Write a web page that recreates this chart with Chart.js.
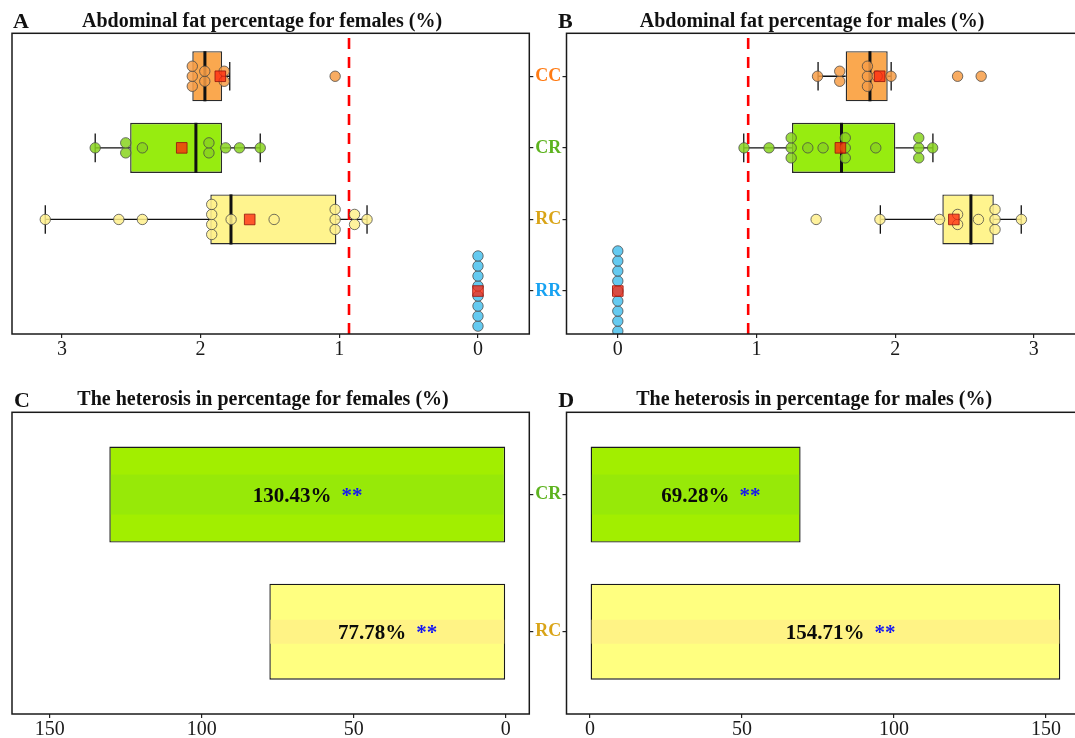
<!DOCTYPE html>
<html>
<head>
<meta charset="utf-8">
<script src="https://cdn.jsdelivr.net/npm/chart.js@4.4.1/dist/chart.umd.min.js"></script>
<style>
  html, body { margin: 0; padding: 0; background: #fff; overflow: hidden; width: 1075px; height: 738px; }
  canvas { position: absolute; }
</style>
</head>
<body>
<canvas id="panelA" width="566" height="370" style="left:0px;top:0px"></canvas>
<canvas id="panelB" width="553" height="370" style="left:540px;top:0px"></canvas>
<canvas id="panelC" width="566" height="368" style="left:0px;top:370px"></canvas>
<canvas id="panelD" width="553" height="368" style="left:540px;top:370px"></canvas>
<script>
// ---- Data -------------------------------------------------------------
const groups = ['CC', 'CR', 'RC', 'RR'];

// Abdominal fat percentage (%) of individual birds, females
const femaleCC = [2.06, 2.06, 2.06, 1.97, 1.97, 1.83, 1.83, 1.03];
const femaleCR = [2.76, 2.54, 2.54, 2.42, 1.94, 1.94, 1.82, 1.72, 1.57];
const femaleRC = [3.12, 2.59, 2.42, 1.92, 1.92, 1.92, 1.92, 1.78, 1.47, 1.03, 1.03, 1.03, 0.89, 0.89, 0.80];
const femaleRR = [0, 0, 0, 0, 0, 0, 0, 0];

// Box statistics, females (CC, CR, RC, RR)
const femaleQ1 = [1.845, 1.845, 1.021, 0];
const femaleMedian = [1.969, 2.034, 1.781, 0];
const femaleQ3 = [2.06, 2.508, 1.930, 0];
const femaleWhiskerLow = [1.79, 1.57, 0.80, 0];
const femaleWhiskerHigh = [2.06, 2.76, 3.12, 0];
const femaleMean = [1.858, 2.136, 1.646, 0];
const femaleReference = 0.93;

// Abdominal fat percentage (%) of individual birds, males
const maleCC = [1.44, 1.60, 1.60, 1.80, 1.80, 1.80, 1.87, 1.97, 2.45, 2.62];
const maleCR = [0.91, 1.09, 1.25, 1.25, 1.25, 1.37, 1.48, 1.64, 1.64, 1.64, 1.86, 2.17, 2.17, 2.17, 2.27];
const maleRC = [1.43, 1.89, 2.32, 2.45, 2.45, 2.60, 2.72, 2.72, 2.72, 2.91];
const maleRR = [0, 0, 0, 0, 0, 0, 0, 0, 0];

// Box statistics, males (CC, CR, RC, RR)
const maleQ1 = [1.643, 1.256, 2.340, 0];
const maleMedian = [1.818, 1.613, 2.546, 0];
const maleQ3 = [1.946, 2.001, 2.711, 0];
const maleWhiskerLow = [1.444, 0.908, 1.893, 0];
const maleWhiskerHigh = [1.971, 2.272, 2.909, 0];
const maleMean = [1.888, 1.605, 2.423, 0];
const maleReference = 0.94;

// Heterosis (%)
const heterosisGroups = ['CR', 'RC'];
const heterosisFemale = [130.43, 77.78];
const heterosisMale = [69.28, 154.71];
const heterosisSignif = ['**', '**'];

// Axis ticks
const fatTicks = [0, 1, 2, 3];
const heterosisTicks = [0, 50, 100, 150];

// ---- Styles -----------------------------------------------------------
const SERIF = "'Liberation Serif', 'Times New Roman', serif";
const DOT_STEP = 0.14;          // vertical stacking step of tied dots (category units)
const labelColor = { CC: '#FF7A12', CR: '#5DB31E', RC: '#D9A417', RR: '#17A2F2' };
const boxFill = { CC: '#FAA84F', CR: '#97EC10', RC: '#FFF48E', RR: '#5CC5EE' };
const dotFill = { CC: 'rgba(247,158,70,0.85)', CR: 'rgba(136,212,30,0.85)', RC: 'rgba(255,240,140,0.85)', RR: 'rgba(80,195,238,0.88)' };
const barFill = { CR: '#A2EE00', RC: '#FFFF80' };
const barBand = { CR: { half: 20, color: 'rgba(110,215,40,0.2)' }, RC: { half: 12, color: '#FFF385' } };

// ---- Plugins ----------------------------------------------------------
const headingPlugin = {
  id: 'heading',
  afterDraw(chart, _args, o) {
    const { ctx, chartArea: ca } = chart;
    ctx.save();
    ctx.fillStyle = '#111';
    ctx.textBaseline = 'alphabetic';
    ctx.textAlign = 'left';
    ctx.font = `bold 22px ${SERIF}`;
    ctx.fillText(o.letter, ca.left + o.letterDx, ca.top + o.letterDy);
    ctx.textAlign = 'center';
    ctx.font = `bold 20px ${SERIF}`;
    ctx.fillText(o.text, ca.left + o.titleDx, ca.top + o.titleDy);
    ctx.restore();
  }
};

const framePlugin = {
  id: 'frame',
  afterDatasetsDraw(chart) {
    const { ctx, chartArea: ca } = chart;
    ctx.save();
    ctx.strokeStyle = '#1a1a1a';
    ctx.lineWidth = 1.5;
    ctx.strokeRect(ca.left, ca.top, ca.right - ca.left, ca.bottom - ca.top);
    ctx.restore();
  }
};

// whiskers, caps and medians, drawn right after the box bars
const whiskerPlugin = {
  id: 'whiskers',
  afterDatasetDraw(chart, args, o) {
    if (args.meta.type !== 'bar' || !o.q1) return;
    const { ctx, scales: { x, y } } = chart;
    ctx.save();
    ctx.strokeStyle = '#111';
    groups.forEach((g, i) => {
      const row = groups.length - 1 - i;
      const yc = y.getPixelForValue(row);
      const capTop = y.getPixelForValue(row + 0.2), capBot = y.getPixelForValue(row - 0.2);
      ctx.lineWidth = 1.3;
      [[o.low[i], o.q1[i]], [o.high[i], o.q3[i]]].forEach(([end, edge]) => {
        if (end === edge) return;
        const xe = x.getPixelForValue(end), xb = x.getPixelForValue(edge);
        ctx.beginPath();
        ctx.moveTo(xe, yc); ctx.lineTo(xb, yc);
        ctx.moveTo(xe, capTop); ctx.lineTo(xe, capBot);
        ctx.stroke();
      });
      if (o.q3[i] > o.q1[i]) {
        const xm = x.getPixelForValue(o.median[i]);
        ctx.lineWidth = 3;
        ctx.beginPath();
        ctx.moveTo(xm, y.getPixelForValue(row + 0.35));
        ctx.lineTo(xm, y.getPixelForValue(row - 0.35));
        ctx.stroke();
      }
    });
    ctx.restore();
  }
};

// lighter band across the middle of each heterosis bar
const bandPlugin = {
  id: 'band',
  afterDatasetDraw(chart, args, o) {
    if (args.meta.type !== 'bar' || !o.groups) return;
    const { ctx } = chart;
    ctx.save();
    args.meta.data.forEach((el, i) => {
      const b = barBand[o.groups[i]];
      const { x, y, base } = el.getProps(['x', 'y', 'base'], true);
      const l = Math.min(x, base) + 1, r = Math.max(x, base) - 1;
      ctx.fillStyle = b.color;
      ctx.fillRect(l, y - b.half, r - l, 2 * b.half);
    });
    ctx.restore();
  }
};

// value + significance labels on heterosis bars
const barLabelPlugin = {
  id: 'barLabels',
  afterDatasetsDraw(chart, _args, o) {
    if (!o.values) return;
    const { ctx, scales: { x, y } } = chart;
    ctx.save();
    ctx.font = `bold 21px ${SERIF}`;
    ctx.textBaseline = 'alphabetic';
    ctx.textAlign = 'left';
    o.values.forEach((v, i) => {
      const row = o.values.length - 1 - i;
      const txt = v.toFixed(2) + '%';
      const star = o.signif[i];
      const gap = 10;
      const wT = ctx.measureText(txt).width, wS = ctx.measureText(star).width;
      const cx = x.getPixelForValue(v / 2);
      const left = o.centerValueOnly ? cx - wT / 2 : cx - (wT + gap + wS) / 2;
      const yb = y.getPixelForValue(row) + 7.5;
      ctx.fillStyle = '#0a0a0a';
      ctx.fillText(txt, left, yb);
      ctx.fillStyle = '#1515F2';
      ctx.fillText(star, left + wT + gap, yb);
    });
    ctx.restore();
  }
};

// ---- Helpers ----------------------------------------------------------
function stackDots(values, row) {
  const counts = {}, seen = {};
  values.forEach(v => { counts[v] = (counts[v] || 0) + 1; });
  return values.map(v => {
    seen[v] = seen[v] === undefined ? 0 : seen[v] + 1;
    return { x: v, y: row + (seen[v] - (counts[v] - 1) / 2) * DOT_STEP };
  });
}

function xAxis(min, max, ticks, reverse, height) {
  return {
    type: 'linear', min, max, reverse, offset: false,
    afterBuildTicks: s => { s.ticks = ticks.map(v => ({ value: v })); },
    afterFit: s => { s.height = height; },
    grid: { display: true, offset: false, drawOnChartArea: false, drawTicks: true, tickLength: 4, color: '#222', lineWidth: 1.2 },
    border: { display: false },
    ticks: { color: '#1a1a1a', font: { family: SERIF, size: 20 }, padding: 0, maxRotation: 0, autoSkip: false }
  };
}

function yAxis(min, max, cats, position, showLabels, width) {
  const n = cats.length;
  const rows = cats.map((c, i) => n - 1 - i);
  return {
    type: 'linear', min, max, position, offset: false,
    afterBuildTicks: s => { s.ticks = rows.slice().reverse().map(v => ({ value: v })); },
    afterFit: s => { s.width = width; },
    grid: { display: true, offset: false, drawOnChartArea: false, drawTicks: true, tickLength: 4, color: '#222', lineWidth: 1.2 },
    border: { display: false },
    ticks: {
      display: showLabels,
      padding: 2,
      font: { family: SERIF, size: 18, weight: 'bold' },
      callback: v => cats[n - 1 - v],
      color: ctx => labelColor[cats[n - 1 - ctx.tick.value]]
    }
  };
}

function boxPanel(id, o) {
  const rows = groups.map((g, i) => groups.length - 1 - i);
  const boxed = groups.map((g, i) => i).filter(i => o.q3[i] > o.q1[i]);
  const datasets = [
    {
      type: 'scatter',
      data: o.mean.map((m, i) => ({ x: m, y: rows[i] })),
      pointStyle: 'rect', pointRadius: 7.5,
      backgroundColor: 'rgba(255,35,10,0.75)', borderColor: 'rgba(150,25,15,0.85)', borderWidth: 1
    },
    ...groups.map((g, i) => ({
      type: 'scatter',
      data: stackDots(o.points[i], rows[i]),
      pointRadius: 5.2,
      backgroundColor: dotFill[g], borderColor: 'rgba(70,70,70,0.85)', borderWidth: 0.9
    })),
    {
      type: 'line',
      data: [{ x: o.reference, y: -0.6 }, { x: o.reference, y: 3.6 }],
      borderColor: '#FF0000', borderWidth: 2.6, borderDash: [11, 8], pointRadius: 0, fill: false
    },
    {
      type: 'bar', indexAxis: 'y',
      data: boxed.map(i => ({ y: rows[i], x: [o.q1[i], o.q3[i]] })),
      backgroundColor: boxed.map(i => boxFill[groups[i]]),
      borderColor: '#2b2b2b', borderWidth: 1.4, borderSkipped: false,
      categoryPercentage: 0.7, barPercentage: 1
    }
  ];
  return new Chart(document.getElementById(id), {
    type: 'scatter',
    data: { datasets },
    plugins: [whiskerPlugin, framePlugin, headingPlugin],
    options: {
      responsive: false, animation: false, devicePixelRatio: 1,
      layout: { padding: o.padding },
      scales: {
        x: xAxis(-0.37, 3.36, fatTicks, o.reverse, 36),
        y: yAxis(-0.6, 3.6, groups, o.yPos, o.yLabels, o.yWidth)
      },
      plugins: {
        legend: { display: false }, tooltip: { enabled: false },
        whiskers: { q1: o.q1, q3: o.q3, median: o.median, low: o.low, high: o.high },
        heading: o.heading
      }
    }
  });
}

function heterosisPanel(id, o) {
  const n = heterosisGroups.length;
  return new Chart(document.getElementById(id), {
    type: 'scatter',
    data: {
      datasets: [{
        type: 'bar', indexAxis: 'y',
        data: o.values.map((v, i) => ({ y: n - 1 - i, x: v })),
        backgroundColor: heterosisGroups.map(g => barFill[g]),
        borderColor: '#1a1a1a', borderWidth: 1.4, borderSkipped: false,
        categoryPercentage: 0.7, barPercentage: 1
      }]
    },
    plugins: [bandPlugin, framePlugin, barLabelPlugin, headingPlugin],
    options: {
      responsive: false, animation: false, devicePixelRatio: 1,
      layout: { padding: o.padding },
      scales: {
        x: xAxis(-7.7355, 162.4455, heterosisTicks, o.reverse, 24),
        y: yAxis(-0.6, 1.6, heterosisGroups, o.yPos, o.yLabels, o.yWidth)
      },
      plugins: {
        legend: { display: false }, tooltip: { enabled: false },
        band: { groups: heterosisGroups },
        barLabels: { values: o.values, signif: heterosisSignif, centerValueOnly: o.centerValueOnly },
        heading: o.heading
      }
    }
  });
}

// ---- Panels -----------------------------------------------------------
boxPanel('panelA', {
  points: [femaleCC, femaleCR, femaleRC, femaleRR],
  q1: femaleQ1, q3: femaleQ3, median: femaleMedian, low: femaleWhiskerLow, high: femaleWhiskerHigh,
  mean: femaleMean, reference: femaleReference,
  reverse: true, yPos: 'right', yLabels: true, yWidth: 36.7,
  padding: { left: 12, top: 33.3, right: 0, bottom: 0 },
  heading: { letter: 'A', text: 'Abdominal fat percentage for females (%)', letterDx: 1, letterDy: -5, titleDx: 250, titleDy: -6.3 }
});

boxPanel('panelB', {
  points: [maleCC, maleCR, maleRC, maleRR],
  q1: maleQ1, q3: maleQ3, median: maleMedian, low: maleWhiskerLow, high: maleWhiskerHigh,
  mean: maleMean, reference: maleReference,
  reverse: false, yPos: 'left', yLabels: false, yWidth: 4.5,
  padding: { left: 22, top: 33.3, right: 9.2, bottom: 0 },
  heading: { letter: 'B', text: 'Abdominal fat percentage for males (%)', letterDx: -8.5, letterDy: -5, titleDx: 245.5, titleDy: -6.3 }
});

heterosisPanel('panelC', {
  values: heterosisFemale, reverse: true, yPos: 'right', yLabels: true, yWidth: 36.7,
  centerValueOnly: false,
  padding: { left: 12, top: 42.3, right: 0, bottom: 0 },
  heading: { letter: 'C', text: 'The heterosis in percentage for females (%)', letterDx: 2, letterDy: -5.6, titleDx: 251, titleDy: -7.3 }
});

heterosisPanel('panelD', {
  values: heterosisMale, reverse: false, yPos: 'left', yLabels: false, yWidth: 4.5,
  centerValueOnly: true,
  padding: { left: 22, top: 42.3, right: 9.2, bottom: 0 },
  heading: { letter: 'D', text: 'The heterosis in percentage for males (%)', letterDx: -8.3, letterDy: -5.6, titleDx: 247.7, titleDy: -7.3 }
});
</script>
</body>
</html>
